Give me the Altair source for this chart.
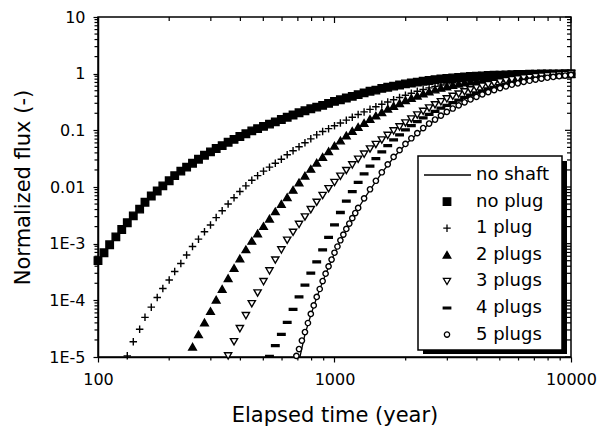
import altair as alt
import pandas as pd

FONT = "DejaVu Sans"
W, H = 473, 340

# ---- data (log10 of normalized flux) ----
t_grid = [100, 106, 112, 119, 126, 133, 141, 150, 158, 168,
          178, 188, 200, 211, 224, 237, 251, 266, 282, 299,
          316, 335, 355, 376, 398, 422, 447, 473, 501, 531,
          562, 596, 631, 668, 708, 750, 794, 841, 891, 944,
          1000, 1059, 1122, 1189, 1259, 1334, 1413, 1496, 1585, 1679,
          1778, 1884, 1995, 2113, 2239, 2371, 2512, 2661, 2818, 2985,
          3162, 3350, 3548, 3758, 3981, 4217, 4467, 4732, 5012, 5309,
          5623, 5957, 6310, 6683, 7079, 7499, 7943, 8414, 8913, 9441,
          10000]

no_plug_log10 = [-3.30, -3.16, -3.02, -2.88, -2.75, -2.63, -2.51, -2.39, -2.27, -2.16,
                 -2.07, -1.98, -1.89, -1.80, -1.72, -1.65, -1.58, -1.51, -1.44, -1.38,
                 -1.32, -1.27, -1.21, -1.16, -1.11, -1.06, -1.01, -0.97, -0.93, -0.89,
                 -0.85, -0.81, -0.77, -0.73, -0.69, -0.655, -0.62, -0.59, -0.56, -0.525,
                 -0.49, -0.46, -0.43, -0.40, -0.37, -0.34, -0.31, -0.29, -0.26, -0.24,
                 -0.22, -0.20, -0.18, -0.165, -0.15, -0.135, -0.12, -0.105, -0.095, -0.085,
                 -0.075, -0.065, -0.058, -0.05, -0.044, -0.038, -0.033, -0.029, -0.025, -0.021,
                 -0.018, -0.015, -0.012, -0.01, -0.008, -0.006, -0.005, -0.004, -0.003, -0.002,
                 -0.001]

one_plug_log10 = [-4.98, -4.73, -4.51, -4.30, -4.12,
                  -3.95, -3.79, -3.64, -3.49, -3.35, -3.20, -3.05, -2.92, -2.79, -2.67,
                  -2.54, -2.42, -2.30, -2.19, -2.08, -1.98, -1.88, -1.80, -1.72, -1.65,
                  -1.58, -1.51, -1.43, -1.36, -1.29, -1.22, -1.15, -1.08, -1.02, -0.97,
                  -0.92, -0.87, -0.82, -0.77, -0.72, -0.675, -0.63, -0.585, -0.54, -0.50,
                  -0.46, -0.42, -0.38, -0.345, -0.31, -0.28, -0.25, -0.225, -0.20, -0.18,
                  -0.16, -0.14, -0.125, -0.11, -0.095, -0.085, -0.075, -0.065, -0.055, -0.048,
                  -0.042, -0.036, -0.03, -0.025, -0.02, -0.016, -0.012, -0.009, -0.006, -0.004,
                  -0.002]

two_plugs_log10 = [-4.82, -4.60, -4.39, -4.19,
                   -3.99, -3.80, -3.61, -3.43, -3.26, -3.10, -2.95, -2.82, -2.69, -2.56,
                   -2.43, -2.30, -2.18, -2.05, -1.92, -1.80, -1.68, -1.57, -1.47, -1.37,
                   -1.27, -1.18, -1.09, -1.01, -0.94, -0.87, -0.80, -0.74, -0.68, -0.62,
                   -0.57, -0.52, -0.47, -0.43, -0.39, -0.35, -0.315, -0.28, -0.25, -0.225,
                   -0.20, -0.178, -0.158, -0.14, -0.124, -0.11, -0.097, -0.085, -0.074, -0.064,
                   -0.055, -0.047, -0.04, -0.034, -0.028, -0.023, -0.018, -0.014, -0.01, -0.006,
                   -0.003]

three_plugs_log10 = [-4.98, -4.73, -4.50, -4.27, -4.06, -3.87, -3.67, -3.48,
                     -3.29, -3.11, -2.94, -2.80, -2.66, -2.53, -2.40, -2.27, -2.15, -2.03,
                     -1.92, -1.81, -1.71, -1.61, -1.51, -1.42, -1.33, -1.25, -1.17, -1.09,
                     -1.01, -0.94, -0.87, -0.80, -0.73, -0.665, -0.605, -0.55, -0.495, -0.445,
                     -0.40, -0.36, -0.32, -0.285, -0.25, -0.22, -0.195, -0.17, -0.145, -0.125,
                     -0.107, -0.091, -0.077, -0.065, -0.054, -0.044, -0.035, -0.027, -0.02, -0.013,
                     -0.006]

four_plugs_log10 = [-4.99,
                    -4.80, -4.60, -4.39, -4.16, -3.94, -3.73, -3.52, -3.32, -3.11, -2.89,
                    -2.67, -2.45, -2.25, -2.08, -1.92, -1.77, -1.63, -1.50, -1.38, -1.27,
                    -1.17, -1.08, -0.99, -0.915, -0.845, -0.78, -0.72, -0.665, -0.61, -0.56,
                    -0.51, -0.465, -0.42, -0.38, -0.34, -0.305, -0.27, -0.24, -0.21, -0.185,
                    -0.16, -0.14, -0.12, -0.102, -0.086, -0.071, -0.057, -0.044, -0.032, -0.021,
                    -0.01]

five_plugs_t = [690, 708, 728, 750, 772, 794, 817, 841, 866, 891, 917,
                944, 972, 1000, 1029, 1059, 1090, 1122, 1155, 1189, 1224, 1259] + t_grid[45:]
five_plugs_log10 = [-4.98, -4.86, -4.71, -4.56, -4.40, -4.24, -4.09, -3.94, -3.80, -3.66, -3.53,
                    -3.40, -3.28, -3.16, -3.05, -2.94, -2.84, -2.74, -2.645, -2.55, -2.46, -2.37,
                    -2.20, -2.04, -1.89, -1.74, -1.60, -1.47, -1.35, -1.24, -1.14, -1.05,
                    -0.96, -0.88, -0.81, -0.74, -0.675, -0.615, -0.56, -0.505, -0.455, -0.41,
                    -0.365, -0.325, -0.29, -0.255, -0.225, -0.195, -0.17, -0.145, -0.125, -0.105,
                    -0.088, -0.072, -0.058, -0.045, -0.033, -0.022]

no_shaft_t = [714, 750, 794, 841, 891, 944, 1000, 1059, 1122, 1189, 1259, 1334, 1413,
              1585, 1778, 1995, 2239, 2512, 2818, 3162, 3981, 5012, 6310, 7943, 10000]
no_shaft_log10 = [-5.0, -4.60, -4.26, -3.95, -3.67, -3.41, -3.17, -2.95, -2.75, -2.56, -2.38,
                  -2.21, -2.05, -1.75, -1.48, -1.25, -1.06, -0.89, -0.75, -0.625, -0.415,
                  -0.26, -0.15, -0.075, -0.025]

series_names = ["no shaft", "no plug", "1 plug", "2 plugs", "3 plugs", "4 plugs", "5 plugs"]

x_tick_values = [100, 1000, 10000]
x_tick_labels = ["100", "1000", "10000"]
x_minor_values = [200, 300, 400, 500, 600, 700, 800, 900,
                  2000, 3000, 4000, 5000, 6000, 7000, 8000, 9000]
y_tick_values = [1e-5, 1e-4, 1e-3, 0.01, 0.1, 1, 10]
y_tick_labels = ["1E-5", "1E-4", "1E-3", "0.01", "0.1", "1", "10"]
y_minor_values = [m * d for d in [1e-5, 1e-4, 1e-3, 1e-2, 1e-1, 1] for m in range(2, 10)]

# ---- styling ----
shapes = ["stroke", "square", "M-1,0L1,0M0,-1L0,1", "triangle-up", "triangle-down",
          "M-1,-0.25L1,-0.25L1,0.25L-1,0.25Z", "circle"]
fills = ["black", "black", "black", "black", "white", "black", "white"]
strokes = ["black"] * 7
sizes = [2304, 56, 56, 58, 52, 56, 28]


def pair(times, vals):
    n = min(len(times), len(vals))
    return list(zip(times[-n:], vals[-n:]))


rows = []
for name, times, vals in [("no plug", t_grid, no_plug_log10),
                          ("1 plug", t_grid, one_plug_log10),
                          ("2 plugs", t_grid, two_plugs_log10),
                          ("3 plugs", t_grid, three_plugs_log10),
                          ("4 plugs", t_grid, four_plugs_log10),
                          ("5 plugs", five_plugs_t, five_plugs_log10)]:
    for t, lv in pair(times, vals):
        rows.append({"t": t, "f": 10 ** lv, "series": name})
points_df = pd.DataFrame(rows)
line_df = pd.DataFrame([{"t": t, "f": 10 ** lv} for t, lv in pair(no_shaft_t, no_shaft_log10)])

x_scale = alt.Scale(type="log", domain=[100, 10000], nice=False)
y_scale = alt.Scale(type="log", domain=[1e-5, 10], nice=False)

x_label_expr = "%s[round(log(datum.value)/LN10) - 2]" % str(x_tick_labels)
y_label_expr = "%s[round(log(datum.value)/LN10) + 5]" % str(y_tick_labels)

common_axis = dict(tickSize=5, tickWidth=1.2, tickColor="black", domainColor="black",
                   domainWidth=1.5, labelFont=FONT, labelFontSize=16, labelColor="black",
                   titleFont=FONT, titleFontSize=21, titleFontWeight="normal",
                   titleColor="black", grid=False, labelFlush=False, labelOverlap=False)
x_axis = alt.Axis(values=x_tick_values, labelExpr=x_label_expr, title="Elapsed time (year)",
                  labelPadding=9, titlePadding=17, **common_axis)
y_axis = alt.Axis(values=y_tick_values, labelExpr=y_label_expr, title="Normalized flux (-)",
                  labelPadding=8, titlePadding=15, **common_axis)

X = alt.X("t:Q", scale=x_scale, axis=x_axis)
Y = alt.Y("f:Q", scale=y_scale, axis=y_axis)

legend = alt.Legend(orient="none", legendX=320, legendY=139, title=None, padding=6,
                    rowPadding=0.6, clipHeight=26, symbolOffset=-2, labelOffset=4,
                    labelFont=FONT, labelFontSize=18, labelColor="black", labelLimit=300,
                    strokeColor="transparent", fillColor="transparent",
                    symbolStrokeColor="black", symbolStrokeWidth=1.3, symbolOpacity=1)

points = alt.Chart(points_df).mark_point(opacity=1, filled=False, strokeWidth=1.4).encode(
    x=X, y=Y,
    shape=alt.Shape("series:N", scale=alt.Scale(domain=series_names, range=shapes), legend=legend),
    fill=alt.Fill("series:N", scale=alt.Scale(domain=series_names, range=fills), legend=legend),
    stroke=alt.Stroke("series:N", scale=alt.Scale(domain=series_names, range=strokes), legend=legend),
    size=alt.Size("series:N", scale=alt.Scale(type="ordinal", domain=series_names, range=sizes),
                  legend=legend),
)

line = alt.Chart(line_df).mark_line(color="black", strokeWidth=1.3).encode(x=X, y=Y)

xmaj = pd.DataFrame({"t": x_tick_values})
xmin = pd.DataFrame({"t": x_minor_values})
ymaj = pd.DataFrame({"f": y_tick_values})
ymin = pd.DataFrame({"f": y_minor_values})
rule = dict(color="black", strokeWidth=1.2)

top_major = alt.Chart(xmaj).mark_rule(**rule).encode(x=X, y=alt.value(0), y2=alt.value(6))
top_minor = alt.Chart(xmin).mark_rule(**rule).encode(x=X, y=alt.value(0), y2=alt.value(4))
bottom_minor = alt.Chart(xmin).mark_rule(**rule).encode(x=X, y=alt.value(H), y2=alt.value(H + 3.5))
right_major = alt.Chart(ymaj).mark_rule(**rule).encode(y=Y, x=alt.value(W), x2=alt.value(W - 6))
right_minor = alt.Chart(ymin).mark_rule(**rule).encode(y=Y, x=alt.value(W), x2=alt.value(W - 4))
left_minor = alt.Chart(ymin).mark_rule(**rule).encode(y=Y, x=alt.value(0), x2=alt.value(-3.5))

# legend frame with drop shadow (decoration behind the legend entries)
one_row = pd.DataFrame({"k": [0]})
shadow = alt.Chart(one_row).mark_rect(color="black").encode(
    x=alt.value(325), x2=alt.value(469), y=alt.value(144), y2=alt.value(337))
frame = alt.Chart(one_row).mark_rect(fill="white", stroke="black", strokeWidth=1.5).encode(
    x=alt.value(320), x2=alt.value(464), y=alt.value(139), y2=alt.value(333))

chart = alt.layer(
    top_major, top_minor, bottom_minor, right_major, right_minor, left_minor,
    line, points, shadow, frame
).properties(
    width=W, height=H,
    padding={"left": 98, "top": 17, "right": 33, "bottom": 73},
    autosize="none",
).configure(font=FONT).configure_view(stroke="black", strokeWidth=1.5)

chart.save("out.html", embed_options={"renderer": "svg", "actions": False})
